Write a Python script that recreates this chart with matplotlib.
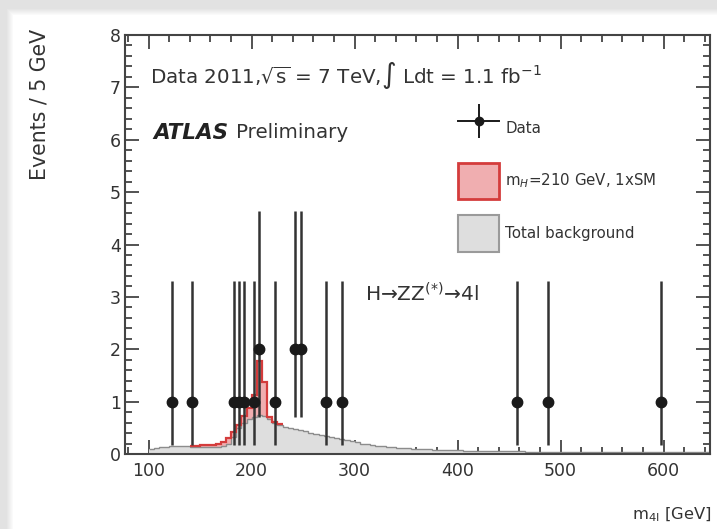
import numpy as np
import matplotlib
matplotlib.use("Agg")
import matplotlib.pyplot as plt
from matplotlib.lines import Line2D
from matplotlib.patches import Patch
from matplotlib.legend_handler import HandlerTuple

plt.rcParams['font.family'] = ['DejaVu Sans']
plt.rcParams['mathtext.fontset'] = 'dejavusans'

# ---------------- data ----------------
bin_edges = np.arange(100, 655, 5)  # 5 GeV bins, 100-650

background = [
    0.10, 0.12, 0.13, 0.14, 0.15, 0.15, 0.15, 0.15, 0.14, 0.14,   # 100-150
    0.13, 0.13, 0.13, 0.14, 0.15, 0.20, 0.32, 0.50, 0.60, 0.66,   # 150-200
    0.70, 0.74, 0.72, 0.66, 0.60, 0.56, 0.52, 0.50, 0.47, 0.45,   # 200-250
    0.43, 0.41, 0.39, 0.36, 0.34, 0.32, 0.30, 0.28, 0.26, 0.24,   # 250-300
    0.22, 0.20, 0.19, 0.18, 0.16, 0.15, 0.14, 0.13, 0.12, 0.12,   # 300-350
    0.11, 0.10, 0.10, 0.09, 0.09, 0.08, 0.08, 0.08, 0.07, 0.07,   # 350-400
    0.07, 0.06, 0.06, 0.06, 0.06, 0.05, 0.05, 0.05, 0.05, 0.05,   # 400-450
    0.05, 0.05, 0.05, 0.04, 0.04, 0.04, 0.04, 0.04, 0.04, 0.04,   # 450-500
    0.04, 0.04, 0.04, 0.04, 0.04, 0.04, 0.04, 0.04, 0.04, 0.04,   # 500-550
    0.04, 0.04, 0.04, 0.04, 0.04, 0.04, 0.04, 0.04, 0.04, 0.04,   # 550-600
    0.04, 0.04, 0.04, 0.04, 0.04, 0.04, 0.04, 0.04, 0.04, 0.04,   # 600-650
]

signal = [
    0.00, 0.00, 0.00, 0.00, 0.00, 0.00, 0.00, 0.00, 0.02, 0.02,   # 100-150
    0.04, 0.04, 0.05, 0.06, 0.07, 0.10, 0.10, 0.05, 0.12, 0.22,   # 150-200
    0.42, 1.04, 0.66, 0.04, 0.02, 0.01, 0.00, 0.00, 0.00, 0.00,   # 200-250
] + [0.0] * 80

data_mass = [122.5, 142.5, 182.5, 187.5, 192.5, 202.5, 207.5, 222.5,
             242.5, 247.5, 272.5, 287.5, 457.5, 487.5, 597.5]
data_counts = [1, 1, 1, 1, 1, 1, 2, 1, 2, 2, 1, 1, 1, 1, 1]

# 68% Poisson intervals (lower, upper) per count
poisson_band = {1: (0.17, 3.30), 2: (0.71, 4.64)}

x_ticks = [100, 200, 300, 400, 500, 600]
y_ticks = [0, 1, 2, 3, 4, 5, 6, 7, 8]

# ---------------- figure ----------------
W, H = 717, 529
fig = plt.figure(figsize=(W / 100, H / 100), dpi=100)

# photo-like shadow on top and left edges
yy, xx = np.mgrid[0:H, 0:W]
shade = np.maximum(np.clip((15 - yy) / 7.0, 0, 1), np.clip((13 - xx) / 7.0, 0, 1)) * 0.11
img = np.dstack([1 - shade] * 3)
fig.figimage(img, xo=0, yo=0, origin='upper', zorder=-10)

ax = fig.add_axes([125 / W, 1 - 454 / H, (710 - 125) / W, (454 - 35) / H])
ax.set_facecolor('white')

bg = np.array(background)
sig = np.array(signal)
total = bg + sig
sig_edge = np.where(sig > 0, total, np.nan)

# signal stacked on background
ax.stairs(total, bin_edges, fill=True, facecolor='#f0aeb0', edgecolor='none', zorder=1)
ax.stairs(sig_edge, bin_edges, baseline=None, fill=False, color='#d43c3c', lw=1.6, zorder=3)
# background
ax.stairs(bg, bin_edges, fill=True, facecolor='#dedede', edgecolor='none', zorder=2)
ax.stairs(bg, bin_edges, baseline=None, fill=False, color='#8c8c8c', lw=1.0, zorder=2.5)

# data
counts = np.array(data_counts)
lo = np.array([c - poisson_band[c][0] for c in data_counts])
hi = np.array([poisson_band[c][1] - c for c in data_counts])
ax.errorbar(data_mass, counts, yerr=[lo, hi], fmt='o', color='#1a1a1a',
            ecolor='#333333', elinewidth=1.8, ms=7.5, capsize=0, zorder=5)

ax.set_xlim(77, 645)
ax.set_ylim(0, 8)
ax.set_xticks(x_ticks)
ax.set_yticks(y_ticks)
ax.set_xticks(np.arange(80, 645, 20), minor=True)
ax.set_yticks(np.arange(0, 8.01, 0.2), minor=True)
ax.tick_params(which='both', direction='in', top=True, right=True, colors='#444444',
               labelcolor='#333333', width=1.3)
ax.tick_params(which='major', length=10, labelsize=12.5)
ax.tick_params(which='minor', length=5)
ax.tick_params(axis='y', pad=3)
ax.tick_params(axis='x', pad=6)
for s in ax.spines.values():
    s.set_color('#444444')
    s.set_linewidth(1.5)

# texts
fig.text(40 / W, 1 - 29 / H, 'Events / 5 GeV', rotation=90, ha='center', va='top',
         fontsize=14.8, color='#333333')
fig.text(712 / W, 1 - 515 / H, r'm$_{\mathrm{4l}}$ [GeV]', ha='right', va='center',
         fontsize=11.8, color='#333333')

yt = ax.get_yaxis_transform()
ax.text(0.043, 7.23, r'Data 2011,$\sqrt{\mathrm{s}}$ = 7 TeV,$\int$ Ldt = 1.1 fb$^{-1}$',
        transform=yt, ha='left', va='center', fontsize=14.3, color='#333333')
ax.text(0.048, 6.13, 'ATLAS', fontweight='bold', fontstyle='italic', ha='left', va='center',
        transform=yt, fontsize=15.5, color='#222222')
ax.text(0.19, 6.13, 'Preliminary', ha='left', va='center',
        transform=yt, fontsize=14.3, color='#333333')
ax.text(0.41, 3.05, r'H→ZZ$^{(*)}$→4l', ha='left', va='center',
        transform=yt, fontsize=14.5, color='#333333')

h_data = (Line2D([0], [0], color='#1a1a1a', lw=1.4, marker='o', ms=6),
          Line2D([0], [0], color='#1a1a1a', lw=0, marker='|', ms=24, mew=1.4))
h_sig = Patch(facecolor='#f0aeb0', edgecolor='#d43c3c', lw=2)
h_bg = Patch(facecolor='#dedede', edgecolor='#9a9a9a', lw=1.5)
leg = ax.legend([h_data, h_sig, h_bg],
                ['Data', r'm$_H$=210 GeV, 1xSM', 'Total background'],
                handler_map={tuple: HandlerTuple(ndivide=1, pad=0)},
                loc='upper left', bbox_to_anchor=(458 / W, 1 - 110 / H),
                bbox_transform=fig.transFigure, frameon=False, borderpad=0,
                borderaxespad=0, fontsize=10.8, handlelength=2.75, handleheight=3.4,
                labelspacing=1.05, handletextpad=0.4)
for t in leg.get_texts():
    t.set_color('#333333')

fig.savefig('out.png', dpi=100)
